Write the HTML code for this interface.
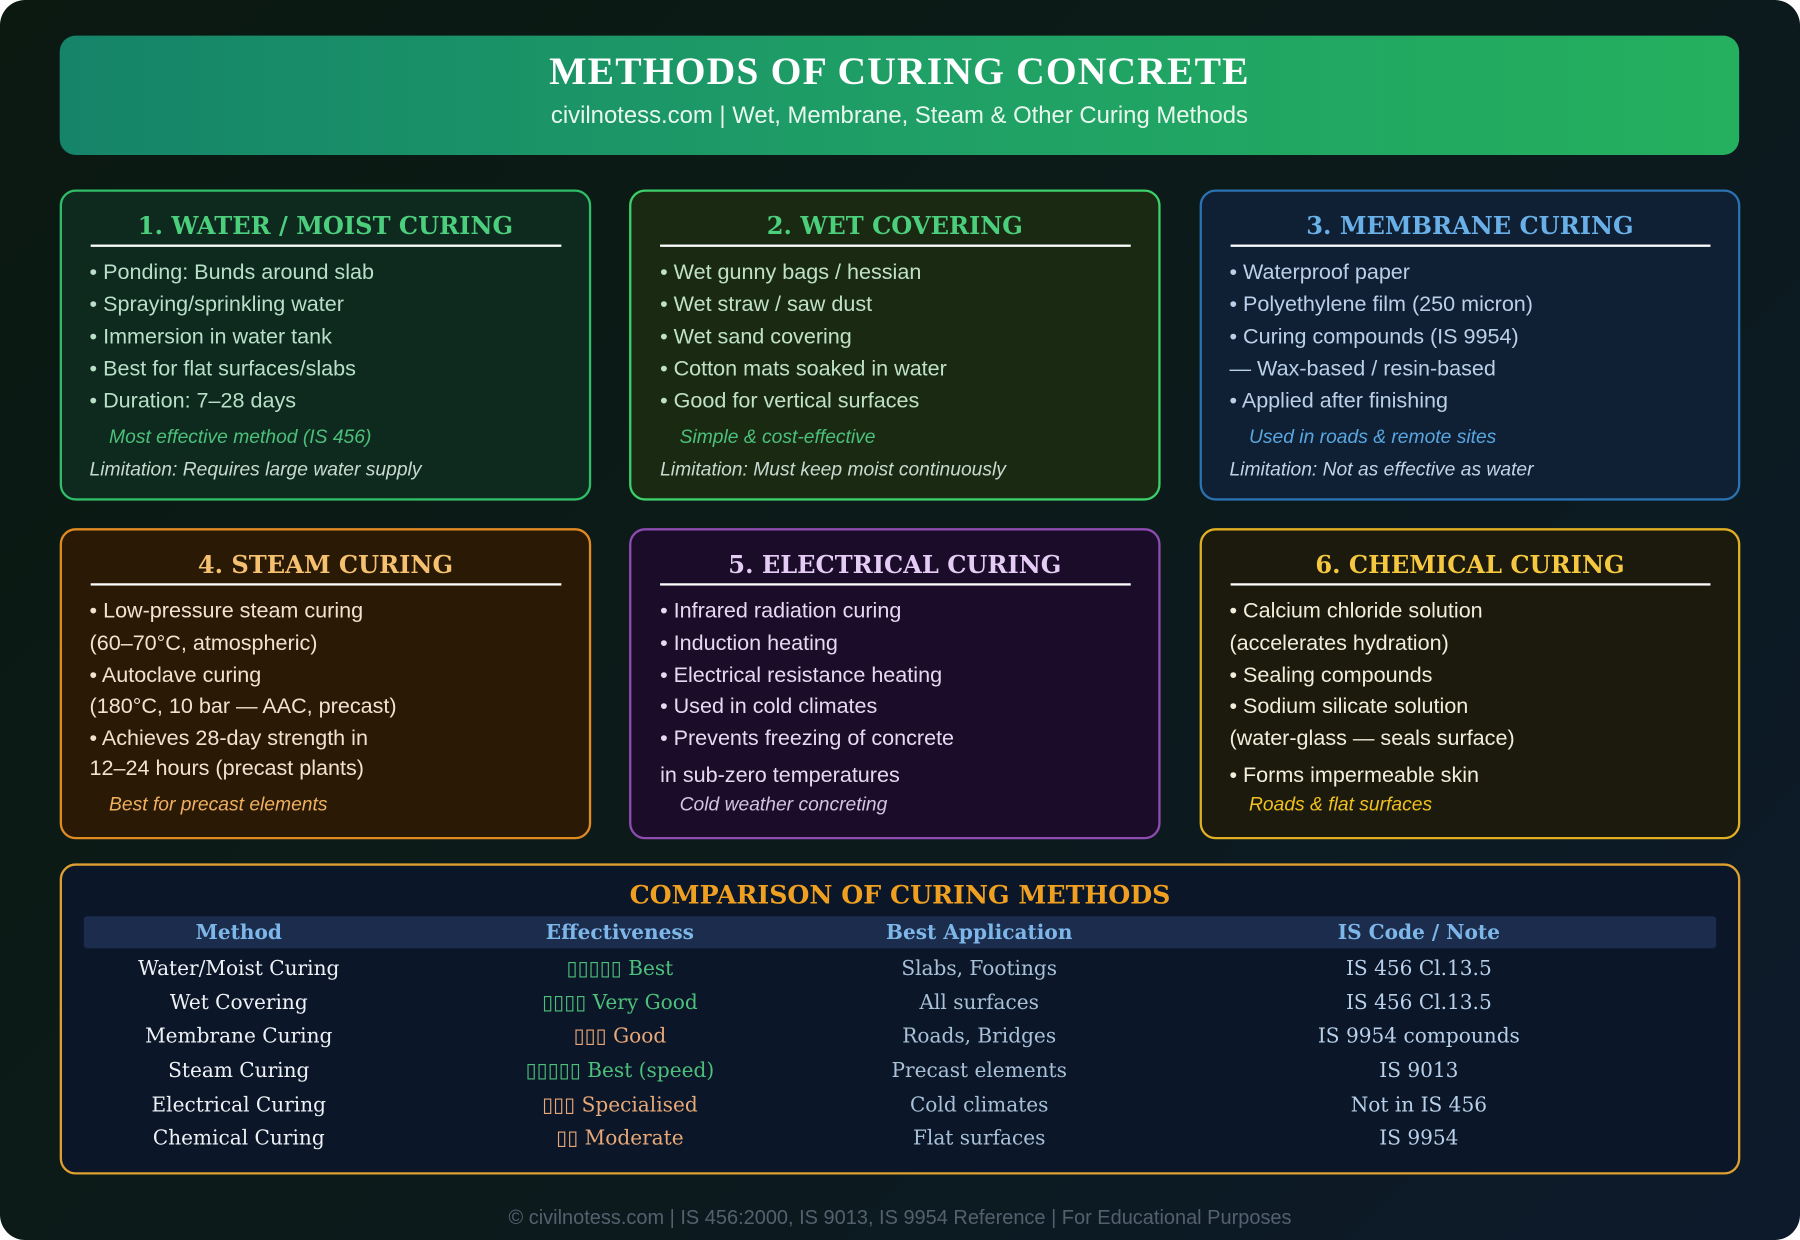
<!DOCTYPE html>
<html><head><meta charset="utf-8"><style>
html,body{margin:0;padding:0;width:1800px;height:1240px;overflow:hidden;background:#fff}
#s{position:absolute;left:0;top:0;width:1568px;height:1080px;transform:scale(1.14796,1.14815);transform-origin:0 0}
#bg{position:absolute;left:0;top:0;width:1568px;height:1080px;border-radius:22px;background:linear-gradient(135deg,#0b1911 0%,#0c1a1a 50%,#0d1a2c 100%)}
.a{position:absolute;white-space:nowrap}
.sans{font-family:"Liberation Sans",sans-serif}
.serif{font-family:"DejaVu Serif","Liberation Serif",serif}
.card{position:absolute;border:2.5px solid;border-radius:14px;box-sizing:border-box}
.t{position:absolute;left:0;right:0;text-align:center;font-family:"DejaVu Serif",serif;font-weight:bold;font-size:21px;line-height:28px}
.hr{position:absolute;height:2px;background:#fff}
.l{position:absolute;font-family:"Liberation Sans",sans-serif;font-size:18.8px;line-height:22px;white-space:nowrap}
.i{position:absolute;font-family:"Liberation Sans",sans-serif;font-style:italic;font-size:16.8px;line-height:20px;white-space:nowrap}
.c{position:absolute;font-family:"DejaVu Serif",serif;font-size:17.5px;line-height:22px;text-align:center;width:400px;white-space:nowrap}
</style></head><body><div id="s">
<div id="bg"></div>
<div class="a" style="left:52px;top:31px;width:1463px;height:104px;border-radius:14px;background:linear-gradient(90deg,#158469,#1f9f66 50%,#24b05e)"></div>
<div class="a" style="left:52px;width:1463px;top:41px;text-align:center;font-size:34.5px;font-weight:bold;color:#fff;line-height:42px;font-family:'Liberation Serif',serif;letter-spacing:1px">METHODS OF CURING CONCRETE</div>
<div class="a sans" style="left:52px;width:1463px;top:89px;text-align:center;font-size:20.8px;color:#e8f8ee;line-height:24px">civilnotess.com | Wet, Membrane, Steam &amp; Other Curing Methods</div>

<!-- card 1 -->
<div class="card" style="left:52px;top:165px;width:463px;height:271px;background:#0e2a1f;border-color:#2fbd68">
<div class="t" style="top:16px;color:#4ccf7d">1. WATER / MOIST CURING</div>
<div class="hr" style="left:25px;width:410px;top:46px"></div></div>
<div style="color:#b9dfc8">
<div class="l" style="left:78px;top:226px">• Ponding: Bunds around slab</div>
<div class="l" style="left:78px;top:254px">• Spraying/sprinkling water</div>
<div class="l" style="left:78px;top:282px">• Immersion in water tank</div>
<div class="l" style="left:78px;top:310px">• Best for flat surfaces/slabs</div>
<div class="l" style="left:78px;top:338px">• Duration: 7–28 days</div></div>
<div class="i" style="left:95px;top:371px;color:#4cc07a">Most effective method (IS 456)</div>
<div class="i" style="left:78px;top:399px;color:#c8dad0">Limitation: Requires large water supply</div>

<!-- card 2 -->
<div class="card" style="left:548px;top:165px;width:463px;height:271px;background:#1a2a12;border-color:#3ccf6a">
<div class="t" style="top:16px;color:#4ccf7d">2. WET COVERING</div>
<div class="hr" style="left:25px;width:410px;top:46px"></div></div>
<div style="color:#c0e0c8">
<div class="l" style="left:575px;top:226px">• Wet gunny bags / hessian</div>
<div class="l" style="left:575px;top:254px">• Wet straw / saw dust</div>
<div class="l" style="left:575px;top:282px">• Wet sand covering</div>
<div class="l" style="left:575px;top:310px">• Cotton mats soaked in water</div>
<div class="l" style="left:575px;top:338px">• Good for vertical surfaces</div></div>
<div class="i" style="left:592px;top:371px;color:#4cc07a">Simple &amp; cost-effective</div>
<div class="i" style="left:575px;top:399px;color:#c8dad0">Limitation: Must keep moist continuously</div>

<!-- card 3 -->
<div class="card" style="left:1045px;top:165px;width:471px;height:271px;background:#0f2034;border-color:#2a72b2">
<div class="t" style="top:16px;color:#6ab0e8">3. MEMBRANE CURING</div>
<div class="hr" style="left:25px;width:418px;top:46px"></div></div>
<div style="color:#b9d0e8">
<div class="l" style="left:1071px;top:226px">• Waterproof paper</div>
<div class="l" style="left:1071px;top:254px">• Polyethylene film (250 micron)</div>
<div class="l" style="left:1071px;top:282px">• Curing compounds (IS 9954)</div>
<div class="l" style="left:1071px;top:310px">— Wax-based / resin-based</div>
<div class="l" style="left:1071px;top:338px">• Applied after finishing</div></div>
<div class="i" style="left:1088px;top:371px;color:#5aa6e0">Used in roads &amp; remote sites</div>
<div class="i" style="left:1071px;top:399px;color:#c0d4e8">Limitation: Not as effective as water</div>

<!-- card 4 -->
<div class="card" style="left:52px;top:460px;width:463px;height:271px;background:#2a1a05;border-color:#e08a22">
<div class="t" style="top:16px;color:#f5c070">4. STEAM CURING</div>
<div class="hr" style="left:25px;width:410px;top:46px"></div></div>
<div style="color:#f2e2d0">
<div class="l" style="left:78px;top:521px">• Low-pressure steam curing</div>
<div class="l" style="left:78px;top:549px">(60–70°C, atmospheric)</div>
<div class="l" style="left:78px;top:577px">• Autoclave curing</div>
<div class="l" style="left:78px;top:604px">(180°C, 10 bar — AAC, precast)</div>
<div class="l" style="left:78px;top:632px">• Achieves 28-day strength in</div>
<div class="l" style="left:78px;top:658px">12–24 hours (precast plants)</div></div>
<div class="i" style="left:95px;top:691px;color:#f0b060">Best for precast elements</div>

<!-- card 5 -->
<div class="card" style="left:548px;top:460px;width:463px;height:271px;background:#1b0c2a;border-color:#8e4cb0">
<div class="t" style="top:16px;color:#e4ccf4">5. ELECTRICAL CURING</div>
<div class="hr" style="left:25px;width:410px;top:46px"></div></div>
<div style="color:#e8d8f2">
<div class="l" style="left:575px;top:521px">• Infrared radiation curing</div>
<div class="l" style="left:575px;top:549px">• Induction heating</div>
<div class="l" style="left:575px;top:577px">• Electrical resistance heating</div>
<div class="l" style="left:575px;top:604px">• Used in cold climates</div>
<div class="l" style="left:575px;top:632px">• Prevents freezing of concrete</div>
<div class="l" style="left:575px;top:664px">in sub-zero temperatures</div></div>
<div class="i" style="left:592px;top:691px;color:#d4c4e4">Cold weather concreting</div>

<!-- card 6 -->
<div class="card" style="left:1045px;top:460px;width:471px;height:271px;background:#1c1a0c;border-color:#e0b022">
<div class="t" style="top:16px;color:#f5c840">6. CHEMICAL CURING</div>
<div class="hr" style="left:25px;width:418px;top:46px"></div></div>
<div style="color:#f2eedc">
<div class="l" style="left:1071px;top:521px">• Calcium chloride solution</div>
<div class="l" style="left:1071px;top:549px">(accelerates hydration)</div>
<div class="l" style="left:1071px;top:577px">• Sealing compounds</div>
<div class="l" style="left:1071px;top:604px">• Sodium silicate solution</div>
<div class="l" style="left:1071px;top:632px">(water-glass — seals surface)</div>
<div class="l" style="left:1071px;top:664px">• Forms impermeable skin</div></div>
<div class="i" style="left:1088px;top:691px;color:#f0c020">Roads &amp; flat surfaces</div>

<!-- table -->
<div class="card" style="left:52px;top:752px;width:1464px;height:271px;background:#0b1628;border-color:#e0a030;border-width:2px">
<div class="t" style="top:12px;color:#f0a020;font-size:22px">COMPARISON OF CURING METHODS</div></div>
<div class="a" style="left:73px;top:798px;width:1422px;height:28px;background:#1b2c4c;border-radius:3px"></div>
<div style="font-weight:bold;color:#7db6e8">
<div class="c" style="left:8px;top:802px;font-weight:bold">Method</div>
<div class="c" style="left:340px;top:802px;font-weight:bold">Effectiveness</div>
<div class="c" style="left:653px;top:802px;font-weight:bold">Best Application</div>
<div class="c" style="left:1036px;top:802px;font-weight:bold">IS Code / Note</div></div>
<div style="color:#eef2f6">
<div class="c" style="left:8px;top:833px">Water/Moist Curing</div>
<div class="c" style="left:8px;top:863px">Wet Covering</div>
<div class="c" style="left:8px;top:892px">Membrane Curing</div>
<div class="c" style="left:8px;top:922px">Steam Curing</div>
<div class="c" style="left:8px;top:952px">Electrical Curing</div>
<div class="c" style="left:8px;top:981px">Chemical Curing</div></div>
<div class="c" style="left:340px;top:833px;color:#4cc07a">▯▯▯▯▯ Best</div>
<div class="c" style="left:340px;top:863px;color:#4cc07a">▯▯▯▯ Very Good</div>
<div class="c" style="left:340px;top:892px;color:#e8a878">▯▯▯ Good</div>
<div class="c" style="left:340px;top:922px;color:#4cc07a">▯▯▯▯▯ Best (speed)</div>
<div class="c" style="left:340px;top:952px;color:#e8a878">▯▯▯ Specialised</div>
<div class="c" style="left:340px;top:981px;color:#e8a878">▯▯ Moderate</div>
<div style="color:#a8c0d8">
<div class="c" style="left:653px;top:833px">Slabs, Footings</div>
<div class="c" style="left:653px;top:863px">All surfaces</div>
<div class="c" style="left:653px;top:892px">Roads, Bridges</div>
<div class="c" style="left:653px;top:922px">Precast elements</div>
<div class="c" style="left:653px;top:952px">Cold climates</div>
<div class="c" style="left:653px;top:981px">Flat surfaces</div></div>
<div style="color:#b8d0ea">
<div class="c" style="left:1036px;top:833px">IS 456 Cl.13.5</div>
<div class="c" style="left:1036px;top:863px">IS 456 Cl.13.5</div>
<div class="c" style="left:1036px;top:892px">IS 9954 compounds</div>
<div class="c" style="left:1036px;top:922px">IS 9013</div>
<div class="c" style="left:1036px;top:952px">Not in IS 456</div>
<div class="c" style="left:1036px;top:981px">IS 9954</div></div>

<div class="a sans" style="left:0;width:1568px;top:1050px;text-align:center;font-size:17.4px;color:#55606e;line-height:20px">© civilnotess.com | IS 456:2000, IS 9013, IS 9954 Reference | For Educational Purposes</div>
</div></body></html>
